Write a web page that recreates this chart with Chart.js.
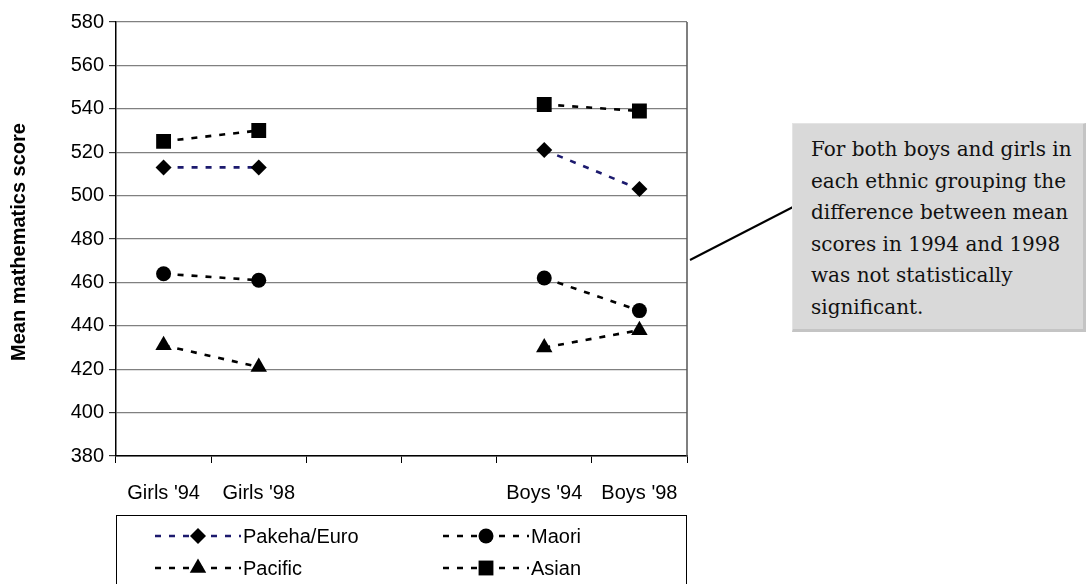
<!DOCTYPE html>
<html>
<head>
<meta charset="utf-8">
<script src="https://cdn.jsdelivr.net/npm/chart.js@4.4.0/dist/chart.umd.min.js"></script>
<style>
  html, body { margin: 0; padding: 0; background: #fff; }
  #wrap { position: relative; width: 1088px; height: 584px; overflow: hidden; }
  #note {
    position: absolute; left: 792px; top: 123px; width: 294px; height: 209px;
    box-sizing: border-box; background: #d9d9d9;
    border: 1px solid #e4e4e4; border-right: 3px solid #c4c4c4; border-bottom: 3px solid #c4c4c4;
    font-family: 'DejaVu Serif', serif; font-size: 20px; line-height: 31.6px; color: #111;
    padding: 10px 0 0 18px; white-space: nowrap;
  }
</style>
</head>
<body>
<div id="wrap">
  <canvas id="myChart" width="1088" height="584"></canvas>
  <div id="note">For both boys and girls in<br>each ethnic grouping the<br>difference between mean<br>scores in 1994 and 1998<br>was not statistically<br>significant.</div>
</div>
<script>
var groups = ["Girls '94", "Girls '98", "", "", "Boys '94", "Boys '98"];
var pakeha = [513, 513, null, null, 521, 503];
var maori = [464, 461, null, null, 462, 447];
var pacific = [431, 421, null, null, 430, 438];
var asian = [525, 530, null, null, 542, 539];
var yTicks = { min: 380, max: 580, step: 20 };
var yTitle = 'Mean mathematics score';

var font = "'Liberation Sans', Arial, sans-serif";

function serie(label, data, color, shape, size) {
    return {
        label: label,
        data: data,
        borderColor: color,
        borderWidth: 2.6,
        borderDash: [6, 8],
        pointStyle: shape,
        pointRadius: size,
        pointHoverRadius: size,
        pointBackgroundColor: '#000',
        pointBorderColor: '#000',
        pointBorderWidth: 0,
        fill: false,
        tension: 0
    }
}

// axis title, legend box, callout line and right border of the plot
var extras = {
    id: 'extras',
    afterDraw: function(chart) {
        var ctx = chart.ctx;
        var area = chart.chartArea;
        ctx.save();

        ctx.strokeStyle = '#555';
        ctx.lineWidth = 1.5;
        ctx.beginPath();
        ctx.moveTo(area.right, area.top);
        ctx.lineTo(area.right, area.bottom);
        ctx.stroke();

        ctx.save();
        ctx.translate(19, 242);
        ctx.rotate(-Math.PI / 2);
        ctx.fillStyle = '#000';
        ctx.font = 'bold 20px ' + font;
        ctx.textAlign = 'center';
        ctx.textBaseline = 'middle';
        ctx.fillText(yTitle, 0, 0);
        ctx.restore();

        ctx.strokeStyle = '#000';
        ctx.lineWidth = 2;
        ctx.beginPath();
        ctx.moveTo(690, 260);
        ctx.lineTo(793, 207);
        ctx.stroke();

        ctx.lineWidth = 1;
        ctx.strokeRect(116.5, 515.5, 570, 100);

        var cols = [155, 443];
        var rows = [536, 568];
        chart.data.datasets.forEach(function(ds, i) {
            var x0 = cols[i % 2];
            var y = rows[Math.floor(i / 2)];
            var x1 = x0 + 86;
            ctx.strokeStyle = ds.borderColor;
            ctx.lineWidth = ds.borderWidth;
            ctx.setLineDash(ds.borderDash);
            ctx.beginPath();
            ctx.moveTo(x0, y);
            ctx.lineTo(x1, y);
            ctx.stroke();
            ctx.setLineDash([]);
            ctx.fillStyle = '#000';
            Chart.helpers.drawPoint(ctx, { pointStyle: ds.pointStyle, radius: ds.pointRadius, borderWidth: 0, rotation: 0 }, (x0 + x1) / 2, y);
            ctx.fillStyle = '#000';
            ctx.font = '20px ' + font;
            ctx.textBaseline = 'middle';
            ctx.textAlign = 'left';
            ctx.fillText(ds.label, x1 + 2, y + 1);
        });
        ctx.restore();
    }
};

var ctx = document.getElementById('myChart').getContext('2d');
var chart = new Chart(ctx, {
    type: 'line',
    data: {
        labels: groups,
        datasets: [
            serie('Pakeha/Euro', pakeha, '#1c1a6e', 'rectRot', 8),
            serie('Maori', maori, '#000', 'circle', 7.5),
            serie('Pacific', pacific, '#000', 'triangle', 9.5),
            serie('Asian', asian, '#000', 'rect', 10.5)
        ]
    },
    options: {
        responsive: false,
        animation: false,
        layout: { padding: { left: 0, right: 401, top: 22, bottom: 72 } },
        plugins: { legend: { display: false }, tooltip: { enabled: false } },
        scales: {
            x: {
                offset: true,
                grid: { offset: true, drawOnChartArea: false, tickLength: 7, color: '#000' },
                border: { color: '#000', width: 1.5 },
                ticks: { color: '#000', font: { family: font, size: 20 }, padding: 18, maxRotation: 0, autoSkip: false },
                afterFit: function(s) { s.height = 56 }
            },
            y: {
                min: yTicks.min,
                max: yTicks.max,
                ticks: { stepSize: yTicks.step, color: '#000', font: { family: font, size: 20 }, padding: 5 },
                grid: { color: '#808080', lineWidth: 1.2, tickLength: 7, tickColor: '#333' },
                border: { color: '#000', width: 1.5 },
                afterFit: function(s) { s.width = 116 }
            }
        }
    },
    plugins: [extras]
});
</script>
</body>
</html>
